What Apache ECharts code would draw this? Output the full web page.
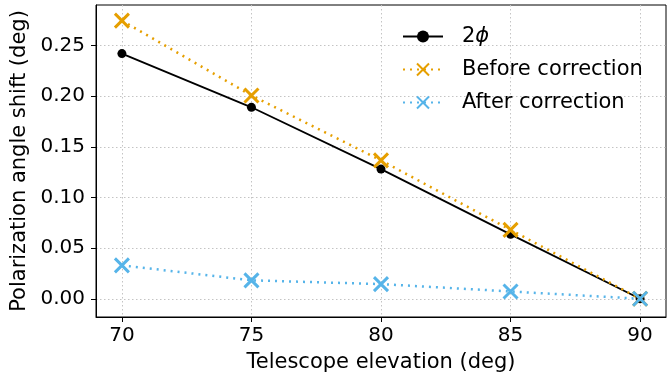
<!DOCTYPE html>
<html><head><meta charset="utf-8">
<script src="https://cdn.jsdelivr.net/npm/echarts@6/dist/echarts.min.js"></script>
<style>html,body{margin:0;padding:0;background:#fff}#c{width:671px;height:378px}</style>
</head><body><div id="c"></div>
<script>
const elevations = [70, 75, 80, 85, 90];
const twoPhi = [0.242, 0.189, 0.128, 0.0636, 0.0];
const beforeCorr = [0.2746, 0.2007, 0.1366, 0.0680, 0.0];
const afterCorr = [0.033, 0.0182, 0.0145, 0.0072, 0.0];
const xTicks = [70, 75, 80, 85, 90];
const yTicks = [0.00, 0.05, 0.10, 0.15, 0.20, 0.25];
const seriesNames = ['2ϕ', 'Before correction', 'After correction'];

const FONT = 'DejaVu Sans';
const xMark = 'path://M0,0L10,10M10,0L0,10';
const pairs = ys => elevations.map((x, i) => [x, ys[i]]);

const chart = echarts.init(document.getElementById('c'), null, {renderer: 'canvas'});
chart.setOption({
  animation: false,
  backgroundColor: '#fff',
  grid: {left: 96, right: 5, top: 5, bottom: 59, show: true, borderColor: '#000', borderWidth: 1, containLabel: false},
  xAxis: {
    type: 'value', min: 69, max: 91,
    name: 'Telescope elevation (deg)', nameLocation: 'middle', nameGap: 35,
    nameTextStyle: {fontFamily: FONT, fontSize: 21, color: '#000'},
    axisLine: {show: true, onZero: false, lineStyle: {color: '#000', width: 1}},
    axisTick: {show: true, length: 5, lineStyle: {color: '#000'}, customValues: xTicks},
    axisLabel: {fontFamily: FONT, fontSize: 20, color: '#000', margin: 9, customValues: xTicks, formatter: v => String(v)},
    splitLine: {show: true, lineStyle: {color: '#c4c4c4', type: [1.5, 2.5], width: 1}}
  },
  yAxis: {
    type: 'value', min: -0.018, max: 0.29,
    name: 'Polarization angle shift (deg)', nameLocation: 'middle', nameGap: 65,
    nameTextStyle: {fontFamily: FONT, fontSize: 21, color: '#000'},
    axisLine: {show: true, onZero: false, lineStyle: {color: '#000', width: 1}},
    axisTick: {show: true, length: 5, lineStyle: {color: '#000'}, customValues: yTicks},
    axisLabel: {fontFamily: FONT, fontSize: 20, color: '#000', margin: 11, customValues: yTicks, formatter: v => v.toFixed(2)},
    splitLine: {show: true, lineStyle: {color: '#c4c4c4', type: [1.5, 2.5], width: 1}}
  },
  legend: {
    show: true, orient: 'vertical', left: 397, top: 21,
    itemWidth: 40, itemHeight: 15, itemGap: 12,
    data: seriesNames,
    textStyle: {fontFamily: FONT, fontSize: 21, color: '#000', padding: [0, 0, 0, 14],
      rich: {n: {fontFamily: FONT, fontSize: 21, color: '#000'}, p: {fontFamily: FONT, fontSize: 21, fontStyle: 'italic', color: '#000'}}},
    formatter: name => name === seriesNames[0] ? '{n|2}{p|ϕ}' : name
  },
  series: [
    {name: seriesNames[0], type: 'line', data: pairs(twoPhi), symbol: 'circle', symbolSize: 9,
      lineStyle: {color: '#000', width: 1.8, type: 'solid'}, itemStyle: {color: '#000'}, z: 2},
    {name: seriesNames[1], type: 'line', data: pairs(beforeCorr), symbol: xMark, symbolSize: 14,
      lineStyle: {color: '#E69F00', width: 2.5, type: [2, 5]}, itemStyle: {color: '#E69F00', borderColor: '#E69F00', borderWidth: 3}, z: 3},
    {name: seriesNames[2], type: 'line', data: pairs(afterCorr), symbol: xMark, symbolSize: 14,
      lineStyle: {color: '#56B4E9', width: 2.5, type: [2, 5]}, itemStyle: {color: '#56B4E9', borderColor: '#56B4E9', borderWidth: 3}, z: 4}
  ]
});
</script></body></html>
